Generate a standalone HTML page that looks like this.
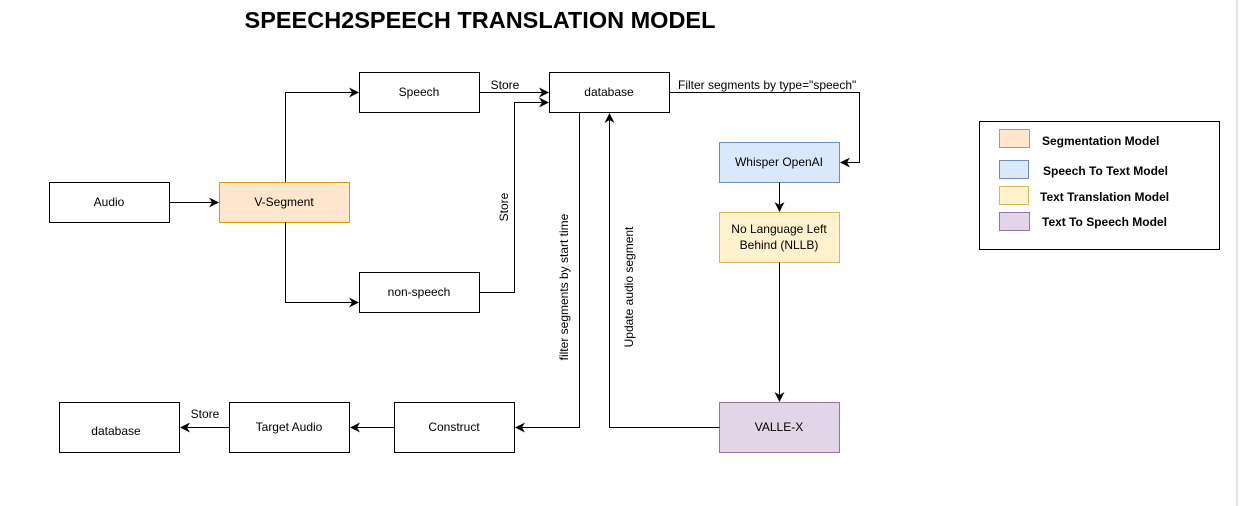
<!DOCTYPE html>
<html><head><meta charset="utf-8"><style>
html,body{margin:0;padding:0;background:#fff;width:1241px;height:506px;overflow:hidden}
text{font-family:"Liberation Sans",Arial,sans-serif;font-size:12px;fill:#000}
</style></head><body>
<svg width="1241" height="506" viewBox="0 0 1241 506" xmlns="http://www.w3.org/2000/svg">
<defs><marker id="a" markerWidth="12" markerHeight="12" refX="9" refY="5" orient="auto" markerUnits="userSpaceOnUse"><path d="M0,0 L10,5 L0,10 L3,5 Z" fill="#000"/></marker></defs>
<line x1="1237" y1="0" x2="1237" y2="506" stroke="#e6e6e6" stroke-width="2"/>
<text x="480" y="28" text-anchor="middle" style="font-size:23.5px;font-weight:bold">SPEECH2SPEECH TRANSLATION MODEL</text>
<g stroke="#000" stroke-width="1" fill="#fff">
<rect x="49.5" y="182.5" width="120" height="40"/>
<rect x="219.5" y="182.5" width="130" height="40" fill="#ffe6cc" stroke="#d79b00"/>
<rect x="359.5" y="72.5" width="120" height="40"/>
<rect x="359.5" y="272.5" width="120" height="40"/>
<rect x="549.5" y="72.5" width="120" height="40"/>
<rect x="719.5" y="142.5" width="120" height="40" fill="#dae8fc" stroke="#6c8ebf"/>
<rect x="719.5" y="212.5" width="120" height="50" fill="#fff2cc" stroke="#d6b656"/>
<rect x="719.5" y="402.5" width="120" height="50" fill="#e1d5e7" stroke="#9673a6"/>
<rect x="394.5" y="402.5" width="120" height="50"/>
<rect x="229.5" y="402.5" width="120" height="50"/>
<rect x="59.5" y="402.5" width="120" height="50"/>
<rect x="979.5" y="121.5" width="240" height="128"/>
<rect x="999.5" y="129.5" width="30" height="18" fill="#ffe6cc" stroke="#d79b00"/>
<rect x="999.5" y="160.5" width="29" height="18" fill="#dae8fc" stroke="#6c8ebf"/>
<rect x="999.5" y="186.5" width="29" height="18" fill="#fff2cc" stroke="#d6b656"/>
<rect x="999.5" y="212.5" width="30" height="18" fill="#e1d5e7" stroke="#9673a6"/>
</g>
<g stroke="#000" stroke-width="1" fill="none" marker-end="url(#a)">
<path d="M169.5 202.5 H218"/>
<path d="M285.5 182 V92.5 H358"/>
<path d="M285.5 222 V302.5 H358"/>
<path d="M479.5 92.5 H548"/>
<path d="M479.5 292.5 H514.5 V102.5 H548"/>
<path d="M669.5 92.5 H859.5 V162.5 H841"/>
<path d="M779.5 182.5 V211"/>
<path d="M779.5 262.5 V401"/>
<path d="M579.5 112.5 V427.5 H516"/>
<path d="M719.5 427.5 H609.5 V114"/>
<path d="M394.5 427.5 H351"/>
<path d="M229.5 427.5 H181"/>
</g>
<g text-anchor="middle">
<text x="109" y="206">Audio</text>
<text x="284" y="206">V-Segment</text>
<text x="419" y="96">Speech</text>
<text x="419" y="296">non-speech</text>
<text x="609" y="96">database</text>
<text x="779" y="166">Whisper OpenAI</text>
<text x="779" y="233">No Language Left</text>
<text x="779" y="249">Behind  (NLLB)</text>
<text x="779" y="431">VALLE-X</text>
<text x="454" y="431">Construct</text>
<text x="289" y="431">Target Audio</text>
<text x="116" y="435">database</text>
<text x="505" y="89">Store</text>
<text x="205" y="418">Store</text>
<text transform="translate(508,207) rotate(-90)">Store</text>
<text transform="translate(568,287) rotate(-90)">filter segments by start time</text>
<text transform="translate(633,287) rotate(-90)">Update audio segment</text>
</g>
<text x="678" y="89">Filter segments by type="speech"</text>
<g style="font-weight:bold">
<text x="1042" y="145">Segmentation Model</text>
<text x="1043" y="175">Speech To Text Model</text>
<text x="1040" y="201">Text Translation Model</text>
<text x="1042" y="226">Text To Speech Model</text>
</g>
</svg>
</body></html>
